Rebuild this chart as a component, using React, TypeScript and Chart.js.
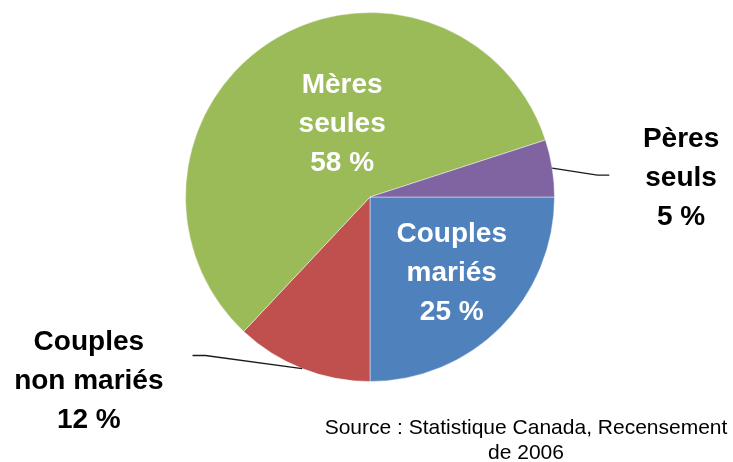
import React, { useEffect, useRef } from "react";
import { Chart, registerables } from "chart.js";

Chart.register(...registerables);

const categories = ["Couples mariés", "Couples non mariés", "Mères seules", "Pères seuls"];
const labelLines = [
  ["Couples", "mariés"],
  ["Couples", "non mariés"],
  ["Mères", "seules"],
  ["Pères", "seuls"],
];
const shares = [25, 12, 58, 5];
const sourceLines = ["Source : Statistique Canada, Recensement", "de 2006"];

const colors = ["#4F81BD", "#C0504D", "#9BBB59", "#8064A2"];
// label placement in units of the pie radius, relative to its centre
const labelPlace = [
  { x: 0.443, y: 0.416, inside: true },
  { x: -1.524, y: 1.0, inside: false, elbow: [-0.892, 0.859], end: -0.962 },
  { x: -0.151, y: -0.395, inside: true },
  { x: 1.686, y: -0.103, inside: false, elbow: [1.232, -0.119], end: 1.297 },
];

const labelPlugin = {
  id: "pieLabels",
  afterDatasetsDraw(chart: any) {
    const ctx = chart.ctx;
    const meta = chart.getDatasetMeta(0);
    ctx.save();
    meta.data.forEach((arc: any, i: number) => {
      const p = arc.getProps(["x", "y", "startAngle", "endAngle", "outerRadius"], true);
      const r = p.outerRadius;
      const cfg = labelPlace[i];
      if (!cfg.inside && cfg.elbow) {
        const mid = (p.startAngle + p.endAngle) / 2;
        const sx = p.x + Math.cos(mid) * r;
        const sy = p.y + Math.sin(mid) * r;
        const ex = p.x + cfg.elbow[0] * r;
        const ey = p.y + cfg.elbow[1] * r;
        ctx.beginPath();
        ctx.moveTo(sx, sy);
        ctx.lineTo(ex, ey);
        ctx.lineTo(p.x + (cfg.end as number) * r, ey);
        ctx.strokeStyle = "#1a1a1a";
        ctx.lineWidth = 1.3;
        ctx.stroke();
      }
      const cx = p.x + cfg.x * r;
      const cy = p.y + cfg.y * r;
      const lines = [...labelLines[i], `${shares[i]} %`];
      const lh = 39;
      ctx.font = "bold 28px 'Liberation Sans', Arial, sans-serif";
      ctx.fillStyle = cfg.inside ? "#ffffff" : "#000000";
      ctx.textAlign = "center";
      ctx.textBaseline = "middle";
      lines.forEach((t, k) => {
        ctx.fillText(t, cx, cy + (k - (lines.length - 1) / 2) * lh);
      });
    });
    ctx.font = "21px 'Liberation Sans', Arial, sans-serif";
    ctx.fillStyle = "#000000";
    ctx.textAlign = "center";
    ctx.textBaseline = "middle";
    sourceLines.forEach((t, k) => {
      ctx.fillText(t, 526, 428 + k * 25);
    });
    ctx.restore();
  },
};

export default function App() {
  const ref = useRef<HTMLCanvasElement | null>(null);
  useEffect(() => {
    if (!ref.current) return;
    const chart = new Chart(ref.current, {
      type: "pie",
      data: {
        labels: categories,
        datasets: [
          {
            data: shares,
            backgroundColor: colors,
            borderColor: "rgba(255,255,255,0.45)",
            borderWidth: 1,
          },
        ],
      },
      options: {
        responsive: false,
        animation: false,
        rotation: 90,
        layout: { padding: { left: 185, right: 178, top: 12, bottom: 80 } },
        plugins: {
          legend: { display: false },
          tooltip: { enabled: false },
        },
      },
      plugins: [labelPlugin],
    });
    return () => chart.destroy();
  }, []);
  return (
    <div style={{ position: "fixed", left: 0, top: 0, width: 733, height: 462, background: "#fff" }}>
      <canvas ref={ref} width={733} height={462} style={{ width: 733, height: 462 }} />
    </div>
  );
}
